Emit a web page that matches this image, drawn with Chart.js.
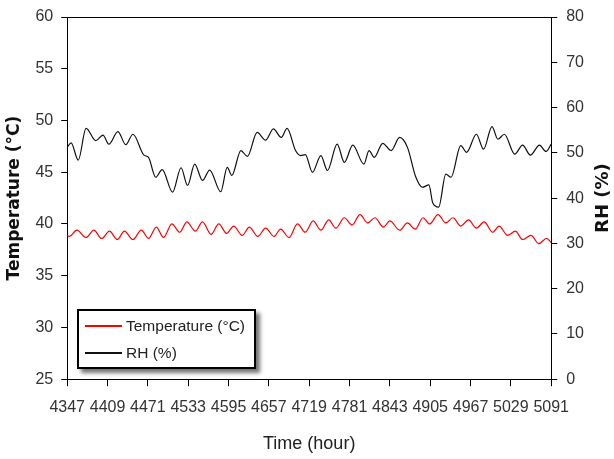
<!DOCTYPE html>
<html>
<head>
<meta charset="utf-8">
<script src="https://cdn.jsdelivr.net/npm/chart.js@4.4.1/dist/chart.umd.min.js"></script>
<style>
  html, body { margin: 0; padding: 0; background: #fff; }
  #wrap { position: relative; width: 614px; height: 459px; }
  #legend {
    position: absolute;
    background: #fff;
    border: 2px solid #000;
    box-shadow: 4px 4px 4px rgba(0, 0, 0, 0.55);
    font-family: 'Liberation Sans', sans-serif;
    font-size: 15.5px;
    color: #222;
    width: 175px;
    padding: 1px 0;
    white-space: nowrap;
  }
  #legend .row { position: relative; height: 27px; line-height: 27px; padding-left: 47px; }
  #legend .line { position: absolute; left: 6px; top: 13px; width: 37px; height: 2px; }
</style>
</head>
<body>
<div id="wrap">
  <canvas id="c" width="614" height="459"></canvas>
  <div id="legend"></div>
</div>
<script>
const xTicks = [4347, 4409, 4471, 4533, 4595, 4657, 4719, 4781, 4843, 4905, 4967, 5029, 5091];

const tempHours = [4347, 4350, 4362, 4376, 4388, 4400, 4412, 4424, 4435, 4448, 4461, 4472, 4484, 4495, 4508, 4520,
  4531, 4544, 4555, 4568, 4580, 4592, 4603, 4616, 4627, 4640, 4652, 4665, 4675, 4688, 4701, 4713,
  4725, 4737, 4749, 4760, 4773, 4785, 4797, 4809, 4820, 4833, 4843, 4858, 4870, 4882, 4894, 4904,
  4917, 4929, 4940, 4952, 4964, 4976, 4988, 5001, 5011, 5024, 5036, 5047, 5060, 5072, 5084, 5091];
const tempValues = [38.9, 38.8, 39.4, 38.7, 39.4, 38.6, 39.3, 38.5, 39.3, 38.5, 39.4, 38.6, 39.7, 38.7, 40.0, 39.2,
  40.2, 39.3, 40.2, 39.0, 40.0, 39.1, 39.8, 38.9, 39.7, 38.8, 39.6, 38.8, 39.5, 38.7, 40.0, 39.2,
  40.3, 39.4, 40.4, 39.6, 40.6, 39.9, 40.9, 40.1, 40.6, 39.7, 40.3, 39.4, 40.1, 39.5, 40.6, 40.0,
  40.9, 40.1, 40.6, 39.8, 40.4, 39.6, 40.2, 39.2, 39.8, 38.9, 39.3, 38.5, 38.9, 38.1, 38.6, 38.2];

const rhHours = [4347, 4353, 4364, 4376, 4391, 4402, 4411, 4425, 4437, 4448, 4465, 4472, 4483, 4493, 4509, 4522,
  4532, 4543, 4555, 4566, 4583, 4593, 4600, 4614, 4624, 4639, 4652, 4664, 4676, 4685, 4698, 4706,
  4713, 4724, 4737, 4747, 4762, 4773, 4786, 4803, 4811, 4819, 4832, 4845, 4858, 4870, 4883, 4893,
  4903, 4909, 4918, 4929, 4937, 4952, 4961, 4976, 4987, 5000, 5009, 5019, 5035, 5047, 5059, 5073,
  5083, 5091];
const rhValues = [51.2, 52.2, 48.4, 55.4, 52.7, 53.9, 51.9, 54.7, 51.8, 54.1, 49.5, 49.0, 44.6, 46.3, 41.3, 46.7,
  42.8, 47.5, 43.9, 46.2, 41.4, 46.8, 45.0, 50.5, 49.2, 54.5, 52.8, 55.3, 53.4, 55.4, 50.5, 49.4,
  49.6, 45.7, 49.4, 46.1, 51.9, 47.9, 51.7, 47.5, 50.5, 49.0, 52.1, 50.5, 53.4, 51.2, 44.6, 42.4,
  42.9, 38.9, 38.0, 45.3, 44.6, 51.6, 50.1, 54.1, 50.8, 55.8, 53.0, 54.1, 49.7, 51.7, 49.5, 51.7,
  50.3, 51.9];

const seriesNames = ["Temperature (°C)", "RH (%)"];
const seriesColors = ["#ff0000", "#111111"];

Chart.defaults.font.family = "'Liberation Sans', sans-serif";
Chart.defaults.color = "#333";

const tickFont = { size: 16 };
const yTickFont = { size: 16, lineHeight: 1 };
const titleFont = { family: "'DejaVu Sans'", size: 17, weight: "bold" };

const framePlugin = {
  id: "frame",
  afterDraw(chart) {
    const { ctx, chartArea: a } = chart;
    ctx.save();
    ctx.strokeStyle = "#000";
    ctx.lineWidth = 1;
    ctx.beginPath();
    ctx.moveTo(a.left, a.top + 0.5);
    ctx.lineTo(a.right, a.top + 0.5);
    ctx.stroke();
    // right axis title reads bottom-to-top like the left one
    ctx.translate(chart.width - 11, (a.top + a.bottom) / 2);
    ctx.rotate(-Math.PI / 2);
    ctx.font = "bold 18px 'DejaVu Sans'";
    ctx.textAlign = "center";
    ctx.textBaseline = "middle";
    ctx.fillStyle = "#111";
    ctx.fillText("RH (%)", 0, 0);
    ctx.restore();

    const lg = document.getElementById("legend");
    lg.style.left = Math.round(a.left + 10) + "px";
    lg.style.top = Math.round(a.bottom - 70) + "px";
  },
};

const ctx = document.getElementById("c").getContext("2d");
const chart = new Chart(ctx, {
  type: "line",
  data: {
    datasets: [
      {
        label: seriesNames[0],
        data: tempHours.map((h, i) => ({ x: h, y: tempValues[i] })),
        borderColor: seriesColors[0],
        borderWidth: 1.2,
        pointRadius: 0,
        cubicInterpolationMode: "monotone",
        yAxisID: "y",
      },
      {
        label: seriesNames[1],
        data: rhHours.map((h, i) => ({ x: h, y: rhValues[i] })),
        borderColor: seriesColors[1],
        borderWidth: 1.2,
        pointRadius: 0,
        cubicInterpolationMode: "monotone",
        yAxisID: "y1",
      },
    ],
  },
  options: {
    responsive: false,
    animation: false,
    devicePixelRatio: 1,
    layout: { padding: { top: 0, right: 21, left: 4, bottom: 2 } },
    plugins: {
      legend: { display: false },
      tooltip: { enabled: false },
    },
    scales: {
      x: {
        type: "linear",
        min: 4347,
        max: 5091,
        afterBuildTicks: (s) => {
          s.ticks = xTicks.map((v) => ({ value: v }));
        },
        ticks: {
          font: tickFont,
          color: "#333",
          padding: 12,
          autoSkip: false,
          maxRotation: 0,
          callback: (v) => String(v),
        },
        grid: { drawOnChartArea: false, drawTicks: true, tickLength: 7, color: "#000" },
        border: { color: "#000", width: 1 },
        title: {
          display: true,
          text: "Time (hour)",
          font: { size: 18 },
          color: "#222",
          padding: { top: 4, bottom: 2 },
        },
      },
      y: {
        position: "left",
        min: 25,
        max: 60,
        ticks: { stepSize: 5, font: yTickFont, color: "#333", padding: 8 },
        grid: { drawOnChartArea: false, drawTicks: true, tickLength: 6, color: "#000" },
        border: { color: "#000", width: 1 },
        title: {
          display: true,
          text: "Temperature (°C)",
          font: titleFont,
          color: "#111",
          padding: { top: 0, bottom: 3 },
        },
      },
      y1: {
        position: "right",
        min: 0,
        max: 80,
        ticks: { stepSize: 10, font: yTickFont, color: "#333", padding: 9 },
        grid: { drawOnChartArea: false, drawTicks: true, tickLength: 6, color: "#000" },
        border: { color: "#000", width: 1 },
      },
    },
  },
  plugins: [framePlugin],
});

document.getElementById("legend").innerHTML = chart.data.datasets
  .map(
    (d) =>
      `<div class="row"><span class="line" style="background:${d.borderColor}"></span>${d.label}</div>`
  )
  .join("");
</script>
</body>
</html>
